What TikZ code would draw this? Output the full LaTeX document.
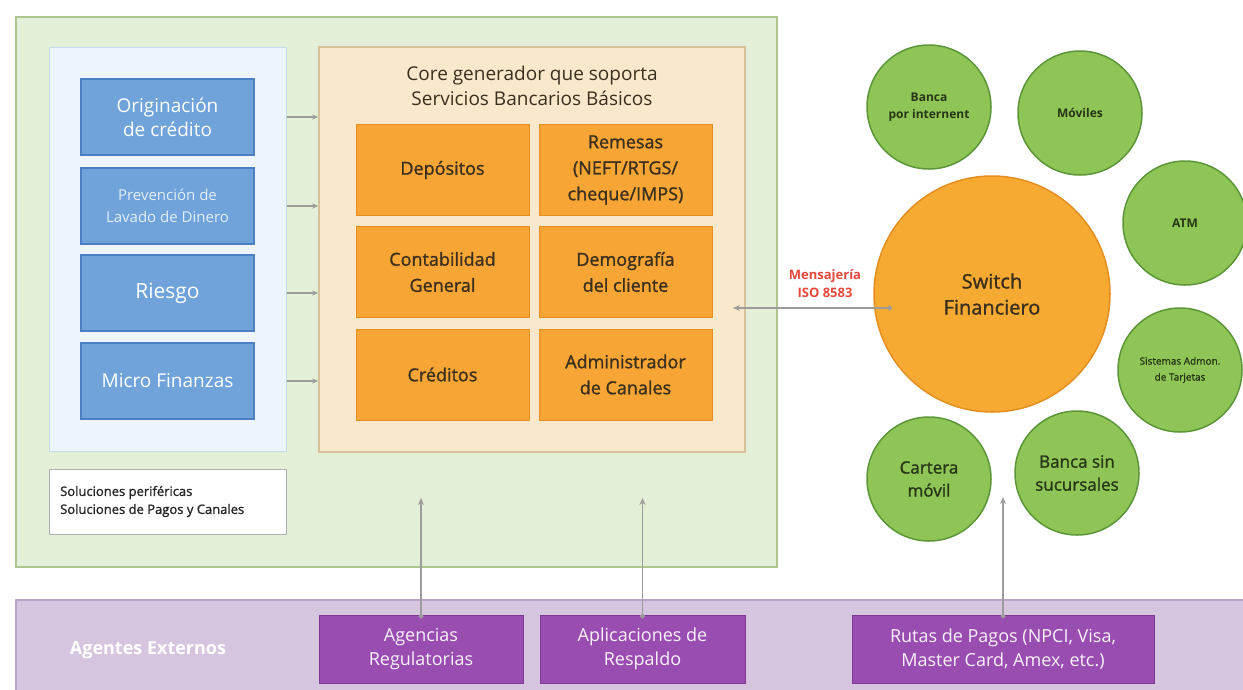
\documentclass[tikz,border=0pt]{standalone}
\usepackage{fontspec}
\setmainfont{Open Sans}
\newfontfamily\semibold{Open Sans}[FakeBold=1.3]
\usetikzlibrary{arrows.meta}
\definecolor{greenbg}{HTML}{E3EFD6}
\definecolor{greenline}{HTML}{AFC590}
\definecolor{panelbg}{HTML}{EEF4FB}
\definecolor{panelline}{HTML}{C8DAEE}
\definecolor{bluefill}{HTML}{6FA3DA}
\definecolor{blueline}{HTML}{4C7FBF}
\definecolor{corebg}{HTML}{F9E8CC}
\definecolor{coreline}{HTML}{D9C29B}
\definecolor{orangefill}{HTML}{F7A534}
\definecolor{orangeline}{HTML}{E48E22}
\definecolor{darktext}{HTML}{3B2F1E}
\definecolor{leaffill}{HTML}{8FC556}
\definecolor{leafline}{HTML}{5C9638}
\definecolor{leaftext}{HTML}{263616}
\definecolor{bandbg}{HTML}{D5C5DE}
\definecolor{bandline}{HTML}{B9A3C6}
\definecolor{purplefill}{HTML}{9A4DB0}
\definecolor{purpleline}{HTML}{7D3896}
\definecolor{arrowgray}{HTML}{9C9C9C}
\definecolor{msgred}{HTML}{E5473D}
\begin{document}
\begin{tikzpicture}[x=1pt,y=-1pt,
  every node/.style={inner sep=0pt},
  bluebox/.style={draw=blueline,fill=bluefill,line width=1.5pt,minimum width=173pt,minimum height=76pt,align=center,text=white},
  corebox/.style={draw=orangeline,fill=orangefill,line width=1pt,minimum width=173pt,minimum height=91pt,align=center,text=darktext,font=\semibold\fontsize{18}{26}\selectfont},
  leaf/.style={circle,draw=leafline,fill=leaffill,line width=1.5pt,minimum size=124pt,align=center,text=leaftext},
  agentbox/.style={draw=purpleline,fill=purplefill,line width=1pt,minimum height=68pt,align=center,text=white!92!purplefill,font=\fontsize{18}{24}\selectfont},
  feed/.style={draw=arrowgray,line width=1.2pt,-{Stealth[length=6pt,width=5pt]}},
  link/.style={draw=arrowgray,line width=1.2pt,{Circle[length=5pt]}-{Stealth[length=7pt,width=6pt]}}]
\useasboundingbox (0,0) rectangle (1243,689);
\fill[white] (0,0) rectangle (1243,689);
\draw[greenline,fill=greenbg,line width=1.5pt] (16,17) rectangle (777,567);
\node[draw=panelline,fill=panelbg,line width=1pt,minimum width=237pt,minimum height=404pt] (panel) at (167.5,249) {};
\node[draw=coreline,fill=corebg,line width=1.5pt,minimum width=426pt,minimum height=405pt] (core) at (532,249.5) {};
\node[align=center,text=darktext,font=\fontsize{19}{25}\selectfont] (coretitle) at (532,86) {Core generador que soporta\\Servicios Bancarios Básicos};
\node[bluebox,font=\fontsize{19}{24}\selectfont] (orig) at (167.5,117) {Originación\\de crédito};
\node[bluebox,font=\fontsize{15}{22}\selectfont,text=white!80!bluefill] (lavado) at (167.5,206) {Prevención de\\Lavado de Dinero};
\node[bluebox,font=\fontsize{21}{24}\selectfont] (riesgo) at (167.5,293) {Riesgo};
\node[bluebox,font=\fontsize{19}{24}\selectfont] (micro) at (167.5,381) {Micro Finanzas};
\node[draw=arrowgray!80,fill=white,line width=1pt,minimum width=237pt,minimum height=65pt] (legend) at (167.5,501.5) {};
\node[anchor=west,align=left,text=black!85,font=\semibold\fontsize{13}{18}\selectfont] at (60,501.5) {Soluciones periféricas\\Soluciones de Pagos y Canales};
\node[corebox] (depositos) at (442.5,170) {Depósitos};
\node[corebox] (remesas) at (625.5,170) {Remesas\\(NEFT/RTGS/\\cheque/IMPS)};
\node[corebox] (contab) at (442.5,272) {Contabilidad\\General};
\node[corebox] (demog) at (625.5,272) {Demografía\\del cliente};
\node[corebox] (creditos) at (442.5,374.5) {Créditos};
\node[corebox] (admin) at (625.5,374.5) {Administrador\\de Canales};
\foreach \b in {orig,lavado,riesgo,micro}
  \draw[feed] (\b -| panel.east) -- (\b -| core.west);
\node[circle,draw=orangeline,fill=orangefill!95!yellow,line width=1.5pt,minimum size=236pt,align=center,text=darktext,font=\semibold\fontsize{20}{26}\selectfont] (switch) at (992,294) {Switch\\Financiero};
\node[leaf,font=\bfseries\fontsize{12}{17}\selectfont] (internet) at (929,107) {Banca\\por internent};
\node[leaf,font=\bfseries\fontsize{12}{17}\selectfont] (moviles) at (1080,113) {Móviles};
\node[leaf,font=\bfseries\fontsize{12}{17}\selectfont] (atm) at (1185,223) {ATM};
\node[leaf,font=\semibold\fontsize{10}{16}\selectfont] (tarjetas) at (1180,370) {Sistemas Admon.\\de Tarjetas};
\node[leaf,font=\semibold\fontsize{17}{23}\selectfont] (cartera) at (929,479) {Cartera\\móvil};
\node[leaf,font=\semibold\fontsize{17}{23}\selectfont] (sinsuc) at (1077,473) {Banca sin\\sucursales};
\node[align=center,text=msgred,font=\bfseries\fontsize{13}{18}\selectfont] (msg) at (825,284) {Mensajería\\ISO 8583};
\coordinate (msgin) at (892,308);
\coordinate (msgout) at (733,308);
\draw[link] (msgin) -- (msgout);
\draw[bandline,fill=bandbg,line width=1.5pt] (16,600) -- (1250,600) -- (1250,695) -- (16,695) -- cycle;
\node[text=white,font=\bfseries\fontsize{18}{24}\selectfont] (agentes) at (148,650) {Agentes Externos};
\node[agentbox,minimum width=204pt] (regul) at (421,649) {Agencias\\Regulatorias};
\node[agentbox,minimum width=205pt] (respaldo) at (642.5,649) {Aplicaciones de\\Respaldo};
\node[agentbox,minimum width=302pt] (rutas) at (1003,649) {Rutas de Pagos (NPCI, Visa,\\Master Card, Amex, etc.)};
\coordinate (regtip) at (421,498);
\coordinate (restip) at (642.5,498);
\coordinate (rutip) at (1003,497);
\draw[link] ([yshift=-4pt]regul.north) -- (regtip);
\draw[link] ([yshift=-4pt]respaldo.north) -- (restip);
\draw[link] ([yshift=-4pt]rutas.north) -- (rutip);
\end{tikzpicture}
\end{document}
